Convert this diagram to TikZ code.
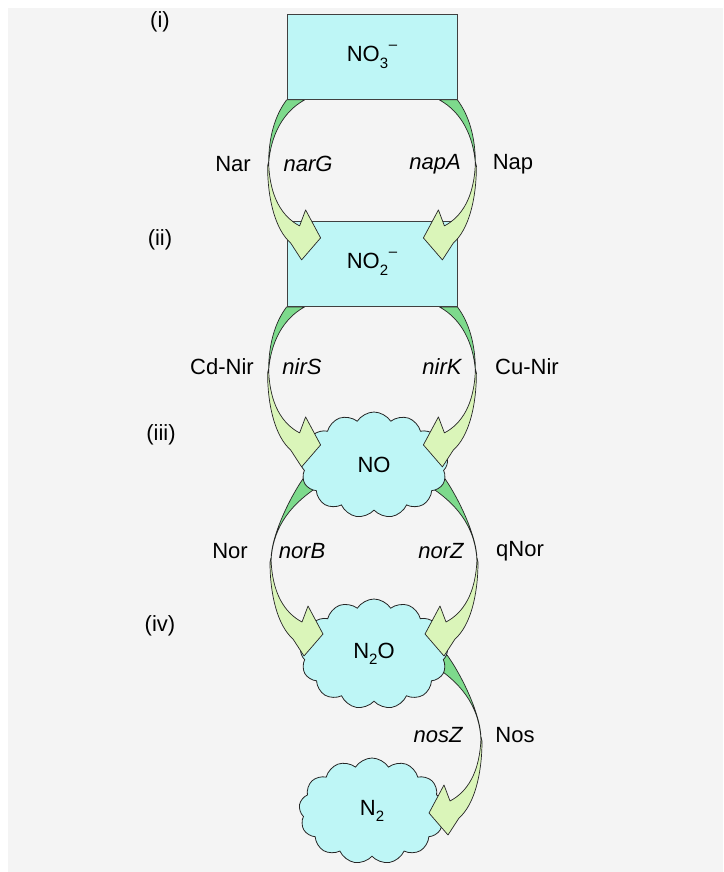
\documentclass[tikz,border=0pt]{standalone}
\usepackage{fontspec}
\setmainfont{Liberation Sans}
\usetikzlibrary{shapes.symbols,calc}
\definecolor{bgc}{RGB}{244,244,244}
\definecolor{cyanf}{RGB}{190,246,246}
\definecolor{dkg}{RGB}{125,218,140}
\definecolor{ltg}{RGB}{218,245,185}
\pgfdeclarelayer{bglayer}
\pgfdeclarelayer{backlayer}
\pgfsetlayers{bglayer,backlayer,main}
\newcommand\dn[1]{\raisebox{-0.3em}{\fontsize{15}{15}\selectfont #1}}
\newcommand\ionm{\raisebox{0.55em}{\fontsize{15}{15}\selectfont \kern0.05em–}}
% sliver part of a bent arrow (local coords, origin at start)
\newcommand\slivr[3]{%
\begin{scope}[#3]
\filldraw[arrline, fill=dkg] (#1) .. controls +(-12,16) and (-18,38) .. (-18,64)
  .. controls (-16,36) and (-4,12) .. (#2) -- cycle;
\end{scope}}
% head part of a bent arrow
\newcommand\ahead[1]{%
\begin{scope}[#1]
\filldraw[arrline, fill=ltg] (-18,62) .. controls (-17,98) and (-4,117) .. (13,126)
  -- (19,110) -- (34,138) -- (15,160) -- (4,143)
  .. controls (-11,130) and (-19,100) .. (-19,66) -- cycle;
\end{scope}}
\begin{document}
\begin{tikzpicture}[x=1pt,y=-1pt,
  lab/.style={font=\fontsize{22}{26}\selectfont, inner sep=0pt},
  gene/.style={font=\fontsize{22}{26}\selectfont\itshape, inner sep=0pt},
  boxn/.style={draw=black!75, line width=0.8pt, fill=cyanf, minimum width=170, minimum height=85, inner sep=0pt, font=\fontsize{22}{26}\selectfont},
  cloudn/.style={cloud, cloud puffs=13, cloud puff arc=115, cloud ignores aspect, draw=black!85, line width=0.8pt, fill=cyanf, inner sep=0pt, font=\fontsize{22}{26}\selectfont},
  arrline/.style={draw=black!85, line width=0.7pt, line join=round}]
\useasboundingbox (0,0) rectangle (723,872);
\begin{pgfonlayer}{bglayer}
\fill[bgc] (8,8) rectangle (723,872);
\end{pgfonlayer}

% substances
\node[boxn] (no3) at (372,57) {NO\dn{3}\ionm};
\node[boxn] (no2) at (372,264) {NO\dn{2}\ionm};
\node[cloudn, minimum width=148, minimum height=106] (no) at (374,465) {NO};
\node[cloudn, minimum width=148, minimum height=110] (n2o) at (374,654) {N\dn{2}O};
\node[cloudn, minimum width=146, minimum height=106] (n2) at (372,811) {N\dn{2}};

% step labels
\node[lab] (si) at (160,22) {(i)};
\node[lab] (sii) at (160,240) {(ii)};
\node[lab] (siii) at (161,435) {(iii)};
\node[lab] (siv) at (160,626) {(iv)};

% enzyme and gene labels
\node[lab] (nar) at (233,164) {Nar};
\node[gene] (narg) at (308,164) {narG};
\node[gene] (napa) at (435,164) {napA};
\node[lab] (nap) at (513,164) {Nap};
\node[lab] (cdnir) at (222,367) {Cd-Nir};
\node[gene] (nirs) at (302,367) {nirS};
\node[gene] (nirk) at (442,367) {nirK};
\node[lab] (cunir) at (527,367) {Cu-Nir};
\node[lab] (nor) at (230,551) {Nor};
\node[gene] (norb) at (302,551) {norB};
\node[gene] (norz) at (441,551) {norZ};
\node[lab] (qnor) at (520,551) {qNor};
\node[gene] (nosz) at (438,735) {nosZ};
\node[lab] (nos) at (515,735) {Nos};

% arrow tails (behind the substances)
\begin{pgfonlayer}{backlayer}
\slivr{0,0}{18,0}{shift={(no3.south west)}}
\slivr{0,0}{18,0}{shift={(no3.south east)}, xscale=-1}
\slivr{0,0}{18,0}{shift={(no2.south west)}}
\slivr{0,0}{18,0}{shift={(no2.south east)}, xscale=-1}
\slivr{16,-20}{30,-10}{shift={($(no.center)+(-85,31)$)}}
\slivr{16,-20}{30,-10}{shift={($(no.center)+(85,31)$)}, xscale=-1}
\slivr{16,-20}{30,-10}{shift={($(n2o.center)+(89,21)$)}, xscale=-1}
\end{pgfonlayer}

% arrow heads (over the substances)
\ahead{shift={(no3.south west)}}
\ahead{shift={(no3.south east)}, xscale=-1}
\ahead{shift={(no2.south west)}}
\ahead{shift={(no2.south east)}, xscale=-1}
\ahead{shift={($(no.center)+(-85,31)$)}}
\ahead{shift={($(no.center)+(85,31)$)}, xscale=-1}
\ahead{shift={($(n2o.center)+(89,21)$)}, xscale=-1}
\end{tikzpicture}
\end{document}
